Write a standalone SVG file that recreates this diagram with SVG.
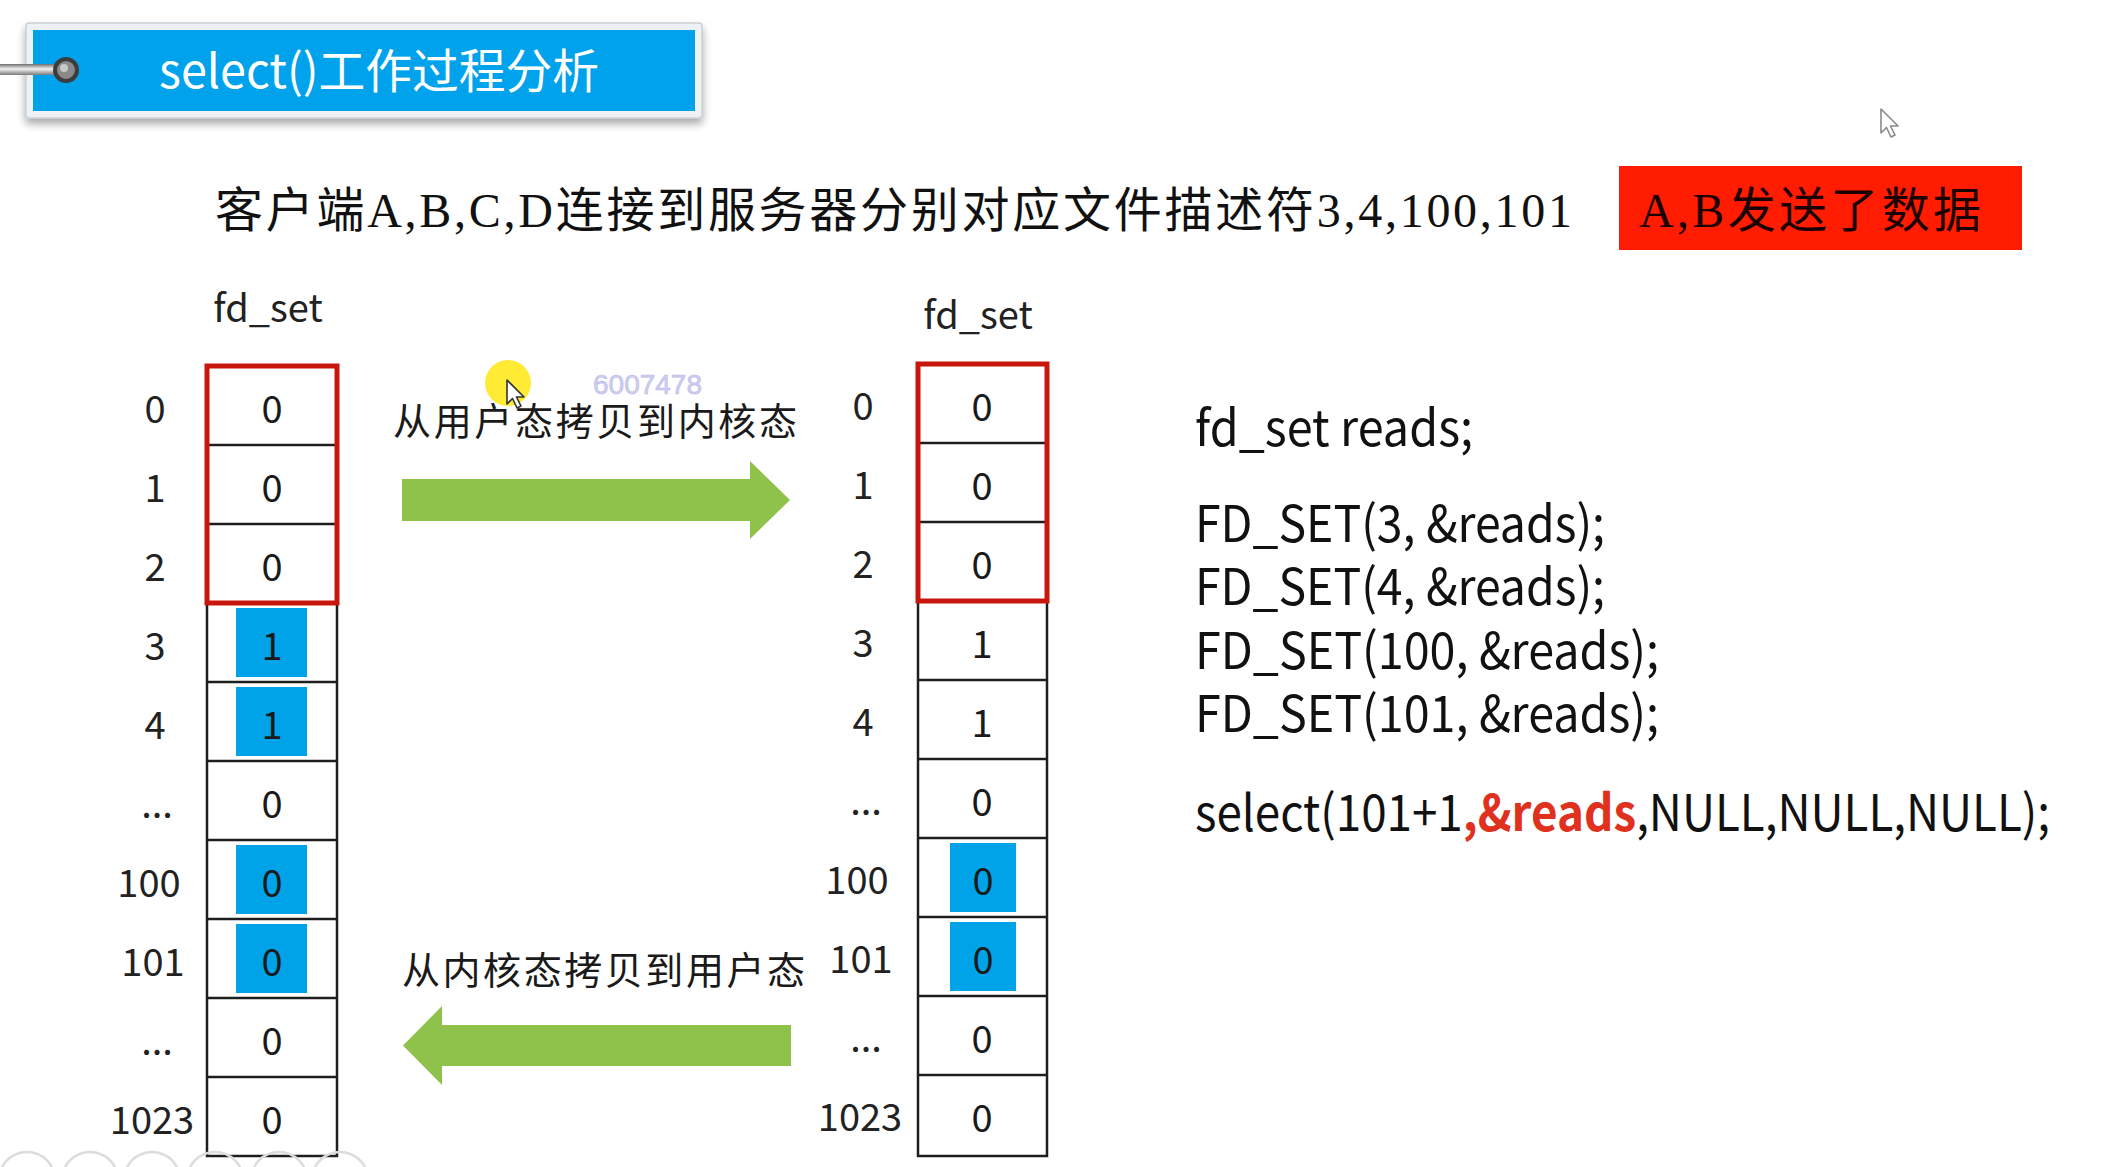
<svg xmlns="http://www.w3.org/2000/svg" width="2110" height="1167" viewBox="0 0 2110 1167">
  <defs>
    <style>
      .sans { font-family: "Noto Sans CJK SC", "Noto Sans", sans-serif; }
      .serif { font-family: "Liberation Serif", "Noto Sans CJK SC", serif; }
      .idx { font-size: 38px; fill: #222; text-anchor: middle; }
      .val { font-size: 38px; fill: #1a1a1a; text-anchor: middle; }
      .grid { fill: none; stroke: #1e1e1e; stroke-width: 2.5; }
      .guard { fill: none; stroke: #c8160c; stroke-width: 5; }
      .hit { fill: #00a2e8; }
      .code { font-size: 50px; fill: #111; }
      .flow { fill: #8fc24b; }
      .cap { font-size: 38px; fill: #1a1a1a; }
    </style>
    <filter id="tagShadow" x="-10%" y="-30%" width="120%" height="170%">
      <feDropShadow dx="0" dy="5" stdDeviation="4" flood-color="#000" flood-opacity="0.35"/>
    </filter>
    <linearGradient id="wire" x1="0" y1="0" x2="0" y2="1">
      <stop offset="0" stop-color="#6e6e6e"/>
      <stop offset="0.45" stop-color="#f2f2f2"/>
      <stop offset="1" stop-color="#7a7a7a"/>
    </linearGradient>
  </defs>

  <rect width="2110" height="1167" fill="#ffffff"/>

  <!-- title tag -->
  <g id="title">
    <rect x="26" y="23" width="676" height="95" rx="3" fill="#eef2f4" stroke="#c9cfd2" stroke-width="1.5" filter="url(#tagShadow)"/>
    <rect x="33" y="30" width="662" height="81" fill="#00a2ec"/>
    <rect x="0" y="64" width="62" height="11" fill="url(#wire)"/>
    <circle cx="66" cy="70" r="11" fill="#8a8a8a" stroke="#3c3c3c" stroke-width="4"/>
    <circle cx="64" cy="68" r="4" fill="#c8c8c8"/>
    <text x="159" y="88" class="sans" font-size="47" fill="#ffffff" textLength="440" lengthAdjust="spacingAndGlyphs">select()工作过程分析</text>
  </g>

  <!-- scenario line -->
  <g id="scenario">
    <text x="215" y="227" class="serif" font-size="48" fill="#111" textLength="1357">客户端A,B,C,D连接到服务器分别对应文件描述符3,4,100,101</text>
  </g>

  <g id="event">
    <rect x="1619" y="166" width="403" height="84" fill="#ff1c00"/>
    <text x="1639" y="227" class="serif" font-size="48" fill="#1a0000" textLength="342">A,B发送了数据</text>
  </g>

  <!-- user-space fd_set -->
  <g id="user-fdset">
    <text x="268" y="322" class="sans" font-size="38" fill="#222" text-anchor="middle">fd_set</text>
    <rect class="hit" x="236" y="608" width="71" height="69"/>
    <rect class="hit" x="236" y="687" width="71" height="69"/>
    <rect class="hit" x="236" y="845" width="71" height="69"/>
    <rect class="hit" x="236" y="924" width="71" height="69"/>
    <rect class="grid" x="207" y="366" width="130" height="790"/>
    <path class="grid" d="M207 445H337M207 524H337M207 603H337M207 682H337M207 761H337M207 840H337M207 919H337M207 998H337M207 1077H337"/>
    <rect class="guard" x="207" y="366" width="130" height="237"/>
    <g class="sans idx">
      <text x="155" y="423">0</text>
      <text x="155" y="502">1</text>
      <text x="155" y="581">2</text>
      <text x="155" y="660">3</text>
      <text x="155" y="739">4</text>
      <text x="157" y="818">...</text>
      <text x="149" y="897">100</text>
      <text x="153" y="976">101</text>
      <text x="157" y="1055">...</text>
      <text x="152" y="1134">1023</text>
    </g>
    <g class="sans val">
      <text x="272" y="423">0</text>
      <text x="272" y="502">0</text>
      <text x="272" y="581">0</text>
      <text x="272" y="660">1</text>
      <text x="272" y="739">1</text>
      <text x="272" y="818">0</text>
      <text x="272" y="897">0</text>
      <text x="272" y="976">0</text>
      <text x="272" y="1055">0</text>
      <text x="272" y="1134">0</text>
    </g>
  </g>

  <!-- kernel-space fd_set -->
  <g id="kernel-fdset">
    <text x="978" y="329" class="sans" font-size="38" fill="#222" text-anchor="middle">fd_set</text>
    <rect class="hit" x="950" y="843" width="66" height="69"/>
    <rect class="hit" x="950" y="922" width="66" height="69"/>
    <rect class="grid" x="918" y="364" width="129" height="792"/>
    <path class="grid" d="M918 443H1047M918 522H1047M918 601H1047M918 680H1047M918 759H1047M918 838H1047M918 917H1047M918 996H1047M918 1075H1047"/>
    <rect class="guard" x="918" y="364" width="129" height="237"/>
    <g class="sans idx">
      <text x="863" y="420">0</text>
      <text x="863" y="499">1</text>
      <text x="863" y="578">2</text>
      <text x="863" y="657">3</text>
      <text x="863" y="736">4</text>
      <text x="866" y="815">...</text>
      <text x="857" y="894">100</text>
      <text x="861" y="973">101</text>
      <text x="866" y="1052">...</text>
      <text x="860" y="1131">1023</text>
    </g>
    <g class="sans val">
      <text x="982" y="421">0</text>
      <text x="982" y="500">0</text>
      <text x="982" y="579">0</text>
      <text x="982" y="658">1</text>
      <text x="982" y="737">1</text>
      <text x="982" y="816">0</text>
      <text x="983" y="895">0</text>
      <text x="983" y="974">0</text>
      <text x="982" y="1053">0</text>
      <text x="982" y="1132">0</text>
    </g>
  </g>

  <!-- copy directions -->
  <g id="connectors">
    <g id="copy-in">
      <polygon class="flow" points="402,479 750,479 750,461 790,500 750,539 750,521 402,521"/>
      <text x="393" y="435" class="serif cap" textLength="404">从用户态拷贝到内核态</text>
    </g>
    <g id="copy-out">
      <polygon class="flow" points="791,1025 442,1025 442,1006 403,1045.5 442,1085 442,1066 791,1066"/>
      <text x="402" y="984" class="serif cap" textLength="403">从内核态拷贝到用户态</text>
    </g>
  </g>

  <!-- source listing -->
  <g id="code" class="sans code">
    <text x="1195" y="446" textLength="278" lengthAdjust="spacingAndGlyphs">fd_set reads;</text>
    <text x="1195" y="542" textLength="410" lengthAdjust="spacingAndGlyphs">FD_SET(3, &amp;reads);</text>
    <text x="1195" y="605" textLength="410" lengthAdjust="spacingAndGlyphs">FD_SET(4, &amp;reads);</text>
    <text x="1195" y="669" textLength="464" lengthAdjust="spacingAndGlyphs">FD_SET(100, &amp;reads);</text>
    <text x="1195" y="732" textLength="464" lengthAdjust="spacingAndGlyphs">FD_SET(101, &amp;reads);</text>
    <text x="1195" y="831" textLength="855" lengthAdjust="spacingAndGlyphs">select(101+1<tspan fill="#e0301e" font-weight="bold">,&amp;reads</tspan>,NULL,NULL,NULL);</text>
  </g>

  <!-- overlay marks: watermark, pointer highlight, pointers, toolbar -->
  <g id="overlay">
    <text x="593" y="394" font-family="Liberation Sans, sans-serif" font-size="28" fill="#cfcff2" stroke="#b9b9e6" stroke-width="0.6" textLength="109">6007478</text>
    <circle cx="508" cy="383" r="23" fill="#ffe600" opacity="0.8"/>
    <path d="M507 380 L507 404 L512.5 398.5 L517 408 L521 406 L516.5 397 L524 397 Z" fill="#ffffff" stroke="#333" stroke-width="1.6" stroke-linejoin="round"/>
    <path d="M1881 109 L1881 133 L1886.5 127.5 L1891 137 L1895 135 L1890.5 126 L1898 126 Z" fill="#ffffff" stroke="#8a8a8a" stroke-width="1.6" stroke-linejoin="round"/>
    <g fill="none" stroke="#dcdcdc" stroke-width="2.5">
      <circle cx="27" cy="1180" r="28"/>
      <circle cx="90" cy="1180" r="28"/>
      <circle cx="152" cy="1180" r="28"/>
      <circle cx="215" cy="1180" r="28"/>
      <circle cx="279" cy="1180" r="28"/>
      <circle cx="340" cy="1180" r="28"/>
    </g>
  </g>
</svg>
